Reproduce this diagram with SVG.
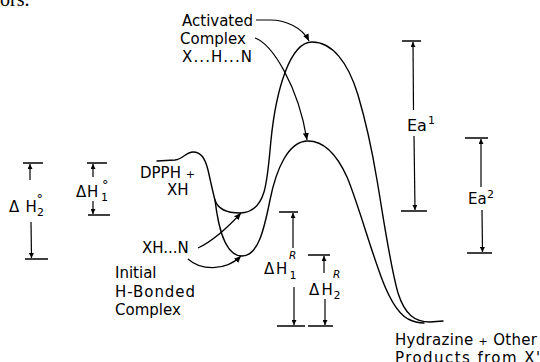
<svg xmlns="http://www.w3.org/2000/svg" width="540" height="362" viewBox="0 0 540 362">
<style>
.c{fill:none;stroke:#000;stroke-width:1.4;stroke-linecap:round;stroke-linejoin:round}
.d{fill:none;stroke:#000;stroke-width:1.2}
.b{fill:none;stroke:#000;stroke-width:1.5}
text{font-family:"DejaVu Sans","Liberation Sans",sans-serif;fill:#000;font-size:15px}
.sub{font-size:11px}
.deg{font-size:13px}
.r{font-size:10.5px;font-style:italic}
.pl{font-size:11px}
</style>
<defs>
<marker id="ah" markerWidth="8" markerHeight="6" refX="7" refY="3" orient="auto" markerUnits="userSpaceOnUse">
<path d="M0,0 L7,3 L0,6 Z" fill="#000"/>
</marker>
<marker id="dh" markerWidth="6" markerHeight="5" refX="5" refY="2.5" orient="auto" markerUnits="userSpaceOnUse">
<path d="M0,0 L5,2.5 L0,5 Z" fill="#000"/>
</marker>
</defs>
<rect width="540" height="362" fill="#fff"/>
<text x="0" y="6" style="font-family:'Liberation Serif',serif;font-size:20px">ors.</text>

<g id="energy-curves">
<path class="c" d="M157,161 L175,160 C183,159 186,152 193,152 C201,152 205,158 208,170 C211,183 213,193 215,200 C218,210 228,213 240,213 C252,213 260,205 264,192 C268,178 269,160 271,140 C276,90 290,42 312,42 C332,42 348,62 358,95 C366,122 372,150 377,180 C383,215 390,265 398,293 C405,315 415,322 430,322 L443,321"/>
<path class="c" d="M215,200 C218,225 224,256 242,256 C258,256 264,230 270,200 C276,170 288,141 308,141 C324,141 337,155 347,177 C356,198 368,240 378,268 C386,292 395,312 408,319 C414,322 418,323 424,323"/>
</g>

<g id="connectors">
<path class="d" d="M256,20 L270,20 C285,20 302,27 309,41" marker-end="url(#ah)"/>
<path class="d" d="M255,38 C272,44 298,85 307,140" marker-end="url(#ah)"/>
<path class="d" d="M198,248 C215,240 230,225 241,213" marker-end="url(#ah)"/>
<path class="d" d="M188,259 C200,270 225,272 241,256" marker-end="url(#ah)"/>
</g>

<g id="activated-complex">
<text x="182" y="26">Activated</text>
<text x="180" y="44">Complex</text>
<text x="182" y="62" textLength="70" lengthAdjust="spacing">X...H...N</text>
</g>

<g id="reactants">
<text x="140" y="178">DPPH <tspan class="pl">+</tspan></text>
<text x="167" y="195">XH</text>
</g>

<g id="h-bonded-complex">
<text x="142" y="253">XH...N</text>
<text x="115" y="278">Initial</text>
<text x="115" y="297" textLength="80" lengthAdjust="spacing">H-Bonded</text>
<text x="115" y="315">Complex</text>
</g>

<g id="products">
<text x="395" y="345" textLength="142" lengthAdjust="spacing">Hydrazine <tspan class="pl">+</tspan> Other</text>
<text x="395" y="363" textLength="145" lengthAdjust="spacing">Products from X'</text>
</g>

<g id="dH2-zero">
<line class="b" x1="23" y1="163" x2="43" y2="163"/>
<line class="b" x1="25" y1="259" x2="48" y2="259"/>
<line class="d" x1="30" y1="180" x2="30" y2="164" marker-end="url(#dh)"/>
<line class="d" x1="31" y1="222" x2="31.5" y2="258" marker-end="url(#dh)"/>
<text><tspan x="9" y="211.5">Δ</tspan><tspan x="25.5">H</tspan><tspan class="deg" x="36.5" y="203">°</tspan><tspan class="sub" x="37" y="215.5">2</tspan></text>
</g>

<g id="dH1-zero">
<line class="b" x1="87" y1="163" x2="107" y2="163"/>
<line class="b" x1="88" y1="215" x2="110" y2="215"/>
<line class="d" x1="93" y1="177" x2="93" y2="164" marker-end="url(#dh)"/>
<line class="d" x1="93" y1="201" x2="93" y2="214" marker-end="url(#dh)"/>
<text><tspan x="76" y="196.5">Δ</tspan><tspan x="87">H</tspan><tspan class="deg" x="102" y="188.5">°</tspan><tspan class="sub" x="101" y="200.5">1</tspan></text>
</g>

<g id="Ea1">
<line class="b" x1="402" y1="41" x2="421" y2="41"/>
<line class="b" x1="401" y1="211" x2="427" y2="211"/>
<line class="d" x1="413.5" y1="110" x2="413" y2="42" marker-end="url(#dh)"/>
<line class="d" x1="414" y1="136" x2="415" y2="210" marker-end="url(#dh)"/>
<text style="font-size:16px"><tspan x="407" y="131">Ea</tspan><tspan class="sub" x="428" y="124">1</tspan></text>
</g>

<g id="Ea2">
<line class="b" x1="465" y1="138" x2="488" y2="138"/>
<line class="b" x1="467" y1="253" x2="492" y2="253"/>
<line class="d" x1="481" y1="187" x2="481" y2="139" marker-end="url(#dh)"/>
<line class="d" x1="482" y1="210" x2="482.5" y2="252" marker-end="url(#dh)"/>
<text><tspan x="468" y="204">Ea</tspan><tspan class="sub" x="487" y="198">2</tspan></text>
</g>

<g id="dH1-R">
<line class="b" x1="279" y1="212" x2="298" y2="212"/>
<line class="b" x1="277" y1="326" x2="305" y2="326"/>
<line class="d" x1="293" y1="248" x2="293" y2="213" marker-end="url(#dh)"/>
<line class="d" x1="294" y1="287" x2="294" y2="325" marker-end="url(#dh)"/>
<text><tspan x="264" y="273.5">Δ</tspan><tspan x="276">H</tspan><tspan class="r" x="289" y="259">R</tspan><tspan class="sub" x="289.5" y="278.5">1</tspan></text>
</g>

<g id="dH2-R">
<line class="b" x1="308" y1="255" x2="330" y2="255"/>
<line class="b" x1="308" y1="326" x2="333" y2="326"/>
<line class="d" x1="324" y1="273" x2="324" y2="256" marker-end="url(#dh)"/>
<line class="d" x1="325" y1="299" x2="325" y2="325" marker-end="url(#dh)"/>
<text><tspan x="309" y="295">Δ</tspan><tspan x="321.5">H</tspan><tspan class="r" x="333" y="278">R</tspan><tspan class="sub" x="333.5" y="298.5">2</tspan></text>
</g>
</svg>
